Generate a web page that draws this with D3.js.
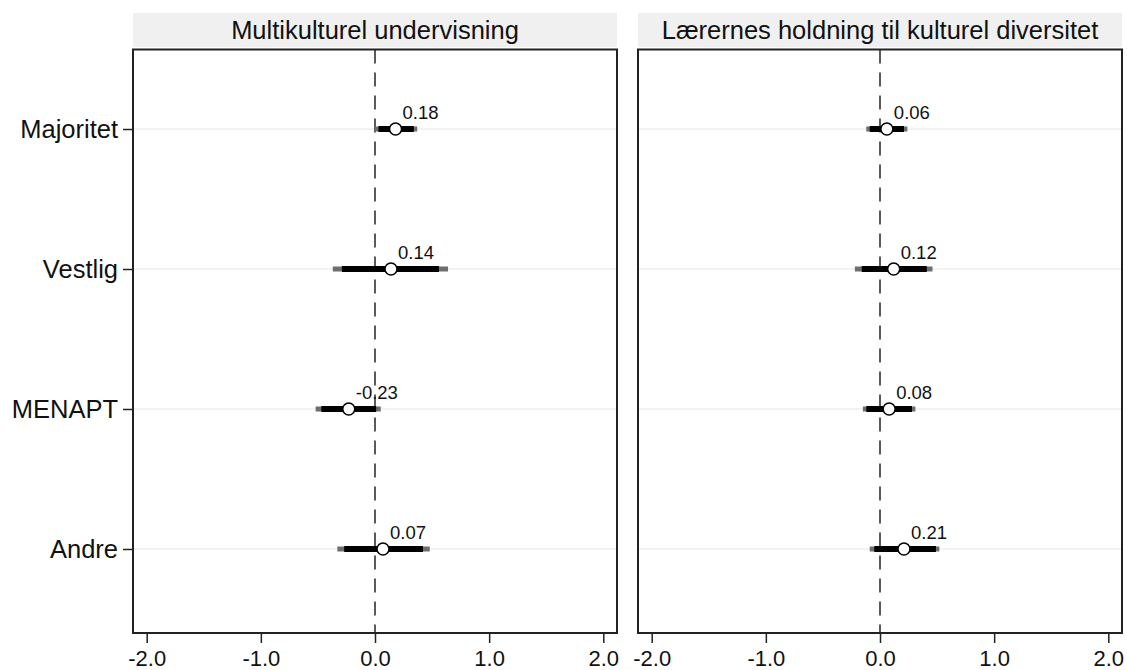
<!DOCTYPE html>
<html>
<head>
<meta charset="utf-8">
<script src="https://cdn.jsdelivr.net/npm/d3@7"></script>
<style>
  html, body { margin: 0; padding: 0; background: #fff; }
  svg { display: block; font-family: "Liberation Sans", Arial, sans-serif; }
</style>
</head>
<body>
<svg id="chart" width="1127" height="670"></svg>
<script>
// categories and panel titles
const categories = ['Majoritet', 'Vestlig', 'MENAPT', 'Andre'];
const panelTitles = ['Multikulturel undervisning', 'Lærernes holdning til kulturel diversitet'];
const xTicks = [-2, -1, 0, 1, 2];

// Multikulturel undervisning: estimate, 95% and 90% intervals
const estMulti  = [0.18, 0.14, -0.23, 0.07];
const lo95Multi = [0.00, -0.37, -0.52, -0.33];
const hi95Multi = [0.37, 0.64, 0.05, 0.48];
const lo90Multi = [0.03, -0.29, -0.47, -0.27];
const hi90Multi = [0.34, 0.56, 0.01, 0.42];

// Lærernes holdning til kulturel diversitet
const estHold  = [0.06, 0.12, 0.08, 0.21];
const lo95Hold = [-0.12, -0.22, -0.15, -0.09];
const hi95Hold = [0.24, 0.46, 0.31, 0.52];
const lo90Hold = [-0.09, -0.16, -0.12, -0.05];
const hi90Hold = [0.21, 0.41, 0.28, 0.49];

const panels = [
  { title: panelTitles[0], left: 133, right: 617, est: estMulti, lo95: lo95Multi, hi95: hi95Multi, lo90: lo90Multi, hi90: hi90Multi },
  { title: panelTitles[1], left: 638, right: 1122, est: estHold, lo95: lo95Hold, hi95: hi95Hold, lo90: lo90Hold, hi90: hi90Hold }
];

const svg = d3.select('#chart');
const plotTop = 49.5, plotBottom = 633;
const stripTop = 13, stripBottom = 47;

// categories sit a little above the vertical centre of the box
const y = d3.scalePoint().domain(categories).range([plotTop, plotBottom - 4.5]).padding(0.568);

panels.forEach((p, pi) => {
  const x = d3.scaleLinear().domain([-2.12, 2.12]).range([p.left, p.right]);
  const g = svg.append('g');

  // strip header
  g.append('rect')
    .attr('x', p.left).attr('y', stripTop)
    .attr('width', p.right - p.left).attr('height', stripBottom - stripTop)
    .attr('fill', '#f0f0f0');
  g.append('text')
    .attr('x', (p.left + p.right) / 2).attr('y', 39)
    .attr('text-anchor', 'middle')
    .attr('font-size', 25.5)
    .attr('fill', '#111')
    .text(p.title);

  // gridlines
  g.selectAll('.grid').data(categories).join('line')
    .attr('x1', p.left).attr('x2', p.right)
    .attr('y1', d => y(d)).attr('y2', d => y(d))
    .attr('stroke', '#e6e6e6').attr('stroke-width', 1);

  // zero reference line
  g.append('line')
    .attr('x1', x(0)).attr('x2', x(0))
    .attr('y1', plotTop).attr('y2', plotBottom)
    .attr('stroke', '#5a5a5a').attr('stroke-width', 2)
    .attr('stroke-dasharray', '14,9');

  const idx = d3.range(categories.length);

  // 95% intervals
  g.selectAll('.ci95').data(idx).join('line')
    .attr('x1', i => x(p.lo95[i])).attr('x2', i => x(p.hi95[i]))
    .attr('y1', i => y(categories[i])).attr('y2', i => y(categories[i]))
    .attr('stroke', '#6e6e6e').attr('stroke-width', 5);

  // 90% intervals
  g.selectAll('.ci90').data(idx).join('line')
    .attr('x1', i => x(p.lo90[i])).attr('x2', i => x(p.hi90[i]))
    .attr('y1', i => y(categories[i])).attr('y2', i => y(categories[i]))
    .attr('stroke', '#000').attr('stroke-width', 6);

  // point estimates
  g.selectAll('.pt').data(idx).join('circle')
    .attr('cx', i => x(p.est[i])).attr('cy', i => y(categories[i]))
    .attr('r', 6)
    .attr('fill', '#fff').attr('stroke', '#000').attr('stroke-width', 1.5);

  g.selectAll('.lbl').data(idx).join('text')
    .attr('x', i => x(p.est[i]) + 7).attr('y', i => y(categories[i]) - 10)
    .attr('font-size', 18.5)
    .attr('fill', '#111')
    .text(i => p.est[i].toFixed(2));

  // frame
  g.append('rect')
    .attr('x', p.left).attr('y', plotTop)
    .attr('width', p.right - p.left).attr('height', plotBottom - plotTop)
    .attr('fill', 'none').attr('stroke', '#222').attr('stroke-width', 2);

  // x axis
  const xAxis = g.append('g')
    .attr('transform', `translate(0,${plotBottom})`)
    .call(d3.axisBottom(x).tickValues(xTicks).tickSize(10).tickPadding(7)
      .tickFormat(d => d.toFixed(1)));
  xAxis.select('.domain').remove();
  xAxis.selectAll('line').attr('stroke', '#222').attr('stroke-width', 1.5);
  xAxis.selectAll('text').attr('font-size', 22).attr('fill', '#111')
    .attr('font-family', '"Liberation Sans", Arial, sans-serif');

  // y axis on the left panel only
  if (pi === 0) {
    const yAxis = g.append('g')
      .attr('transform', `translate(${p.left},0)`)
      .call(d3.axisLeft(y).tickSize(10).tickPadding(5));
    yAxis.select('.domain').remove();
    yAxis.selectAll('line').attr('stroke', '#222').attr('stroke-width', 1.5);
    yAxis.selectAll('text').attr('font-size', 25.5).attr('fill', '#111')
      .attr('font-family', '"Liberation Sans", Arial, sans-serif');
  }
});
</script>
</body>
</html>
